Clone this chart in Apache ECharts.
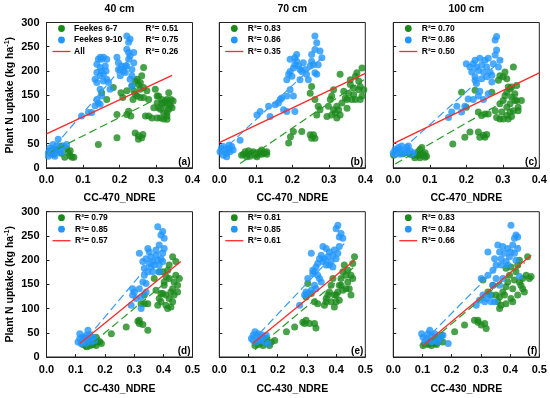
<!DOCTYPE html>
<html><head><meta charset="utf-8">
<script src="https://cdn.jsdelivr.net/npm/echarts@6/dist/echarts.min.js"></script>
<style>html,body{margin:0;padding:0;background:#fff}#c{width:550px;height:398px}</style>
</head><body><div id="c"></div>
<script>
// ---------------- DATA ----------------
const depthTitles = ['40 cm', '70 cm', '100 cm'];
const xNames = ['CC-470_NDRE', 'CC-430_NDRE'];
const panelLabels = ['(a)', '(b)', '(c)', '(d)', '(e)', '(f)'];
const groupNames = ['Feekes 6-7', 'Feekes 9-10', 'All'];
const xTicksTop = [0.0, 0.1, 0.2, 0.3, 0.4];
const xTicksBottom = [0.0, 0.1, 0.2, 0.3, 0.4, 0.5];
const yTicks = [0, 50, 100, 150, 200, 250, 300];

const r2A = ['0.51', '0.75', '0.26'];
const r2B = ['0.83', '0.86', '0.35'];
const r2C = ['0.70', '0.86', '0.50'];
const r2D = ['0.79', '0.85', '0.57'];
const r2E = ['0.81', '0.85', '0.61'];
const r2F = ['0.83', '0.84', '0.66'];

const greenA = [[0.01,35],[0.02,28],[0.03,38],[0.04,30],[0.05,22],[0.055,40],[0.06,32],[0.065,25],[0.07,22],[0.075,22],[0.04,45],[0.065,35],[0.02,40],[0.142,48],[0.193,62],
[0.151,155],[0.165,141],[0.183,166],[0.193,110],[0.204,155],[0.209,145],[0.22,110],[0.225,117],[0.231,107],[0.237,141],[0.239,159],[0.243,179],[0.248,183],[0.252,172],[0.257,176],[0.261,190],[0.266,207],[0.257,162],[0.248,148],[0.266,145],[0.275,159],[0.271,107],[0.243,72],[0.252,66],[0.261,62],[0.264,69],[0.252,59],[0.243,152],[0.234,169],[0.266,166],[0.257,145],[0.28,141],[0.22,159],
[0.298,162],[0.303,134],[0.307,148],[0.312,121],[0.316,134],[0.321,114],[0.326,128],[0.33,141],[0.335,155],[0.339,128],[0.344,124],[0.312,103],[0.321,101],[0.33,107],[0.303,148],[0.316,141],[0.326,138],[0.335,134],[0.341,141],[0.347,138],[0.294,124],[0.307,124],[0.321,134],[0.33,114],[0.335,121],[0.289,103],[0.28,107],[0.303,103],[0.33,100]];
const blueA = [[0.005,31],[0.009,41],[0.014,28],[0.018,34],[0.023,24],[0.028,45],[0.032,34],[0.037,38],[0.041,31],[0.046,45],[0.032,59],[0.005,24],[0.018,48],[0.055,48],[0.009,34],
[0.096,107],[0.115,114],[0.124,114],[0.133,128],[0.138,141],[0.142,134],[0.147,131],[0.133,183],[0.138,197],[0.138,214],[0.142,224],[0.147,228],[0.151,224],[0.156,228],[0.165,224],[0.147,207],[0.151,200],[0.156,193],[0.161,210],[0.163,200],[0.165,183],[0.17,176],[0.147,190],[0.138,176],[0.156,179],[0.174,162],[0.147,162],[0.151,148],
[0.193,228],[0.197,217],[0.202,203],[0.206,210],[0.211,200],[0.216,197],[0.22,210],[0.225,224],[0.225,259],[0.22,245],[0.225,238],[0.22,272],[0.229,266],[0.234,203],[0.234,190],[0.239,217],[0.229,183],[0.234,169],[0.229,231],[0.216,210],[0.202,190],[0.239,238],[0.197,203]];
const fitGreenA = [[0.0,28],[0.29,138]];
const fitBlueA = [[0.0,25],[0.235,232]];
const fitAllA = [[0.0,70],[0.344,191]];

const greenB = [[0.061,26],[0.071,33],[0.075,23],[0.08,28],[0.084,24],[0.089,30],[0.093,33],[0.098,26],[0.103,31],[0.107,28],[0.112,33],[0.116,37],[0.121,30],[0.125,31],[0.13,33],[0.066,28],[0.08,35],[0.103,23],[0.116,28],[0.13,28],
[0.19,51],[0.203,75],[0.226,75],[0.249,68],[0.258,68],[0.262,61],[0.253,61],[0.195,64],
[0.249,154],[0.253,168],[0.262,141],[0.267,109],[0.271,127],[0.276,120],
[0.295,106],[0.299,127],[0.304,141],[0.308,148],[0.313,161],[0.318,113],[0.322,127],[0.327,120],[0.331,193],[0.336,134],[0.341,158],[0.345,144],[0.35,141],[0.354,154],[0.359,172],[0.359,182],[0.363,141],[0.368,165],[0.373,189],[0.377,196],[0.382,179],[0.386,168],[0.391,206],[0.391,148],[0.396,161],[0.373,141],[0.313,120],[0.322,103],[0.331,109],[0.308,109],[0.35,123],[0.368,151],[0.386,141],[0.382,161]];
const blueB = [[0.002,33],[0.006,40],[0.011,44],[0.016,37],[0.02,30],[0.025,40],[0.029,33],[0.034,44],[0.02,23],[0.011,26],[0.027,47],[0.038,37],[0.057,57],
[0.103,109],[0.112,116],[0.135,127],[0.139,106],[0.153,130],[0.162,134],[0.167,141],[0.171,144],[0.185,148],[0.185,116],[0.203,148],[0.207,116],[0.194,161],[0.176,120],
[0.185,182],[0.19,193],[0.194,199],[0.199,189],[0.203,206],[0.207,213],[0.212,220],[0.217,210],[0.221,203],[0.226,199],[0.207,227],[0.212,234],[0.194,224],[0.23,217],[0.235,203],[0.239,193],[0.244,182],[0.249,210],[0.253,220],[0.258,213],[0.262,196],[0.262,244],[0.262,272],[0.267,258],[0.276,241],[0.281,227],[0.253,234],[0.267,193],[0.271,213],[0.221,182]];
const fitGreenB = [[0.057,9],[0.396,182]];
const fitBlueB = [[0.002,30],[0.281,227]];
const fitAllB = [[0.0,52],[0.4,195]];

const greenC = [[0.001,26],[0.018,31],[0.027,29],[0.037,31],[0.046,28],[0.055,26],[0.064,28],[0.068,33],[0.073,38],[0.078,26],[0.082,28],[0.087,22],[0.091,24],[0.073,21],[0.078,42],[0.059,21],[0.068,26],[0.087,31],
[0.163,49],[0.196,63],[0.21,74],[0.233,74],[0.247,67],[0.251,63],[0.256,69],[0.237,63],[0.187,156],[0.2,125],[0.224,160],[0.233,115],[0.242,108],[0.251,111],[0.26,111],[0.27,156],[0.279,118],[0.283,104],[0.292,101],[0.297,115],[0.288,181],[0.292,190],[0.301,188],[0.306,198],[0.311,184],
[0.292,132],[0.301,139],[0.306,149],[0.311,156],[0.315,167],[0.32,163],[0.324,167],[0.329,208],[0.333,153],[0.338,139],[0.342,125],[0.351,139],[0.311,125],[0.32,132],[0.324,146],[0.329,118],[0.315,101],[0.301,101],[0.333,139],[0.338,170],[0.342,118],[0.32,115],[0.311,108],[0.324,106]];
const blueC = [[0,31],[0.005,38],[0.009,35],[0.014,42],[0.018,38],[0.023,45],[0.027,31],[0.032,36],[0.037,42],[0.041,31],[0.046,35],[0.05,28],[0.055,31],[0.005,28],[0.018,28],[0.041,45],
[0.151,104],[0.16,115],[0.174,127],[0.187,115],[0.196,127],[0.205,142],[0.219,141],[0.233,148],[0.237,158],[0.247,141],[0.26,153],[0.2,215],[0.224,181],[0.228,174],
[0.21,208],[0.215,198],[0.219,215],[0.224,222],[0.228,208],[0.233,201],[0.237,226],[0.242,212],[0.247,198],[0.251,222],[0.256,208],[0.26,226],[0.265,198],[0.27,191],[0.274,215],[0.279,233],[0.279,264],[0.283,271],[0.283,243],[0.288,208],[0.292,222],[0.27,177],[0.224,188],[0.242,184],[0.256,188]];
const fitGreenC = [[0.005,8],[0.347,156]];
const fitBlueC = [[0.0,21],[0.301,226]];
const fitAllC = [[0.0,50],[0.4,196]];

const greenD = [[0.125,26],[0.134,23],[0.142,28],[0.15,24],[0.159,26],[0.165,31],[0.17,41],[0.176,31],[0.182,32],[0.188,28],[0.157,34],[0.139,21],[0.17,24],[0.148,34],
[0.222,48],[0.273,62],[0.313,74],[0.318,69],[0.33,67],[0.347,55],[0.318,76],[0.324,110],[0.335,128],[0.335,110],[0.347,110],
[0.369,162],[0.375,138],[0.381,107],[0.386,121],[0.392,114],[0.398,131],[0.403,148],[0.409,107],[0.415,100],[0.42,121],[0.426,134],[0.432,141],[0.437,155],[0.443,169],[0.449,148],[0.455,162],[0.415,179],[0.42,190],[0.432,207],[0.443,197],[0.403,155],[0.409,128],[0.386,176],[0.437,128],[0.449,134],[0.426,103],[0.398,176],[0.42,162],[0.432,114],[0.409,166],[0.392,131]];
const blueD = [[0.108,31],[0.114,38],[0.119,28],[0.125,41],[0.131,34],[0.136,45],[0.142,55],[0.148,38],[0.153,31],[0.159,41],[0.114,48],[0.125,31],[0.136,28],[0.148,46],[0.131,39],[0.165,34],
[0.29,107],[0.295,128],[0.301,134],[0.307,121],[0.318,141],[0.324,124],[0.33,155],[0.335,169],[0.341,134],[0.341,152],[0.324,100],[0.295,141],
[0.318,214],[0.33,197],[0.335,183],[0.341,203],[0.347,224],[0.352,193],[0.358,207],[0.364,197],[0.369,190],[0.375,210],[0.381,200],[0.386,190],[0.392,203],[0.398,214],[0.403,224],[0.352,217],[0.386,176],[0.392,252],[0.398,259],[0.403,245],[0.381,269],[0.386,231],[0.347,176],[0.364,176],[0.375,221],[0.358,186],[0.398,197]];
const fitGreenD = [[0.13,15],[0.44,170]];
const fitBlueD = [[0.114,21],[0.403,228]];
const fitAllD = [[0.114,28],[0.46,197]];

const greenE = [[0.122,24],[0.133,26],[0.139,28],[0.15,24],[0.156,31],[0.161,38],[0.167,28],[0.178,31],[0.19,34],[0.127,31],[0.148,34],[0.172,24],
[0.23,52],[0.258,62],[0.286,72],[0.292,69],[0.297,76],[0.309,69],[0.326,69],[0.331,60],[0.303,152],[0.297,124],[0.315,131],[0.326,114],[0.337,110],
[0.36,107],[0.366,114],[0.372,128],[0.377,134],[0.383,148],[0.389,162],[0.394,128],[0.4,114],[0.406,134],[0.411,148],[0.417,162],[0.423,176],[0.428,190],[0.434,169],[0.44,155],[0.445,141],[0.451,128],[0.457,162],[0.463,207],[0.457,193],[0.44,179],[0.423,138],[0.4,128],[0.383,114],[0.394,103],[0.411,117],[0.434,141],[0.451,169],[0.417,148],[0.366,121]];
const blueE = [[0.11,38],[0.116,45],[0.122,52],[0.127,41],[0.133,48],[0.139,38],[0.144,34],[0.15,41],[0.156,31],[0.161,45],[0.167,28],[0.127,31],[0.144,46],[0.116,34],
[0.275,107],[0.292,128],[0.297,134],[0.303,131],[0.315,138],[0.326,148],[0.331,141],[0.337,169],[0.343,162],[0.349,155],[0.303,162],[0.32,172],
[0.32,179],[0.326,176],[0.331,186],[0.337,193],[0.343,203],[0.349,210],[0.355,228],[0.355,197],[0.36,203],[0.366,190],[0.372,207],[0.377,217],[0.383,197],[0.389,210],[0.394,221],[0.4,203],[0.406,214],[0.411,228],[0.411,248],[0.417,255],[0.423,245],[0.406,272],[0.4,265],[0.315,214],[0.377,190],[0.366,224],[0.389,186]];
const fitGreenE = [[0.122,15],[0.46,185]];
const fitBlueE = [[0.11,31],[0.428,234]];
const fitAllE = [[0.114,28],[0.463,200]];

const greenF = [[0.102,24],[0.108,28],[0.114,31],[0.119,26],[0.125,28],[0.131,24],[0.136,31],[0.142,28],[0.148,26],[0.153,31],[0.159,38],[0.165,45],[0.17,31],[0.119,34],[0.142,34],
[0.21,52],[0.244,66],[0.278,76],[0.29,72],[0.301,66],[0.318,59],[0.313,69],[0.29,76],[0.307,159],[0.324,134],[0.335,128],[0.341,148],
[0.352,128],[0.358,114],[0.364,124],[0.369,107],[0.375,134],[0.381,128],[0.386,145],[0.392,155],[0.398,169],[0.403,121],[0.409,141],[0.415,159],[0.42,176],[0.426,190],[0.432,200],[0.437,148],[0.443,162],[0.449,134],[0.455,169],[0.46,207],[0.466,162],[0.472,166],[0.386,110],[0.409,114],[0.426,128],[0.443,141],[0.386,183],[0.403,186],[0.364,100],[0.432,155]];
const blueF = [[0.097,48],[0.102,41],[0.114,38],[0.119,48],[0.125,55],[0.131,45],[0.136,34],[0.142,48],[0.148,41],[0.153,31],[0.159,38],[0.188,28],[0.108,31],[0.17,45],[0.131,31],
[0.284,107],[0.295,117],[0.307,128],[0.313,114],[0.318,121],[0.33,128],[0.335,114],[0.347,114],[0.301,162],[0.341,148],[0.364,148],[0.352,162],[0.375,162],[0.324,169],
[0.324,217],[0.341,179],[0.352,190],[0.358,231],[0.364,217],[0.369,203],[0.375,228],[0.381,214],[0.386,197],[0.392,224],[0.398,207],[0.403,217],[0.409,231],[0.415,214],[0.42,200],[0.426,224],[0.415,245],[0.42,252],[0.426,248],[0.403,272],[0.432,166],[0.392,190],[0.369,190],[0.347,203]];
const fitGreenF = [[0.1,18],[0.45,195]];
const fitBlueF = [[0.102,31],[0.432,231]];
const fitAllF = [[0.102,24],[0.472,210]];

// ---------------- LAYOUT / STYLE ----------------
const GREEN = '#1b8a1b', BLUE = '#2196ff', RED = '#ff2a2a';
const GDASH = '#2a9a2a', BDASH = '#3a9cf5';
const FONT = '"Liberation Sans", Arial, sans-serif';
const colLeft = [46.5, 219.3, 393.3];
const rowTop = [22.5, 211.7];
const gw = 146, gh = 145.3;

const panels = [
  {g: greenA, b: blueA, fg: fitGreenA, fb: fitBlueA, fa: fitAllA, r2: r2A},
  {g: greenB, b: blueB, fg: fitGreenB, fb: fitBlueB, fa: fitAllB, r2: r2B},
  {g: greenC, b: blueC, fg: fitGreenC, fb: fitBlueC, fa: fitAllC, r2: r2C},
  {g: greenD, b: blueD, fg: fitGreenD, fb: fitBlueD, fa: fitAllD, r2: r2D},
  {g: greenE, b: blueE, fg: fitGreenE, fb: fitBlueE, fa: fitAllE, r2: r2E},
  {g: greenF, b: blueF, fg: fitGreenF, fb: fitBlueF, fa: fitAllF, r2: r2F}
];

const grid = [], xAxis = [], yAxis = [], series = [], graphic = [];
panels.forEach((p, i) => {
  const row = Math.floor(i / 3), col = i % 3;
  const L = colLeft[col], T = rowTop[row];
  grid.push({left: L, top: T, width: gw, height: gh, show: true, borderColor: '#222', borderWidth: 1,
             backgroundColor: 'transparent', outerBoundsMode: 'none', containLabel: false});
  const ticks = row === 0 ? xTicksTop : xTicksBottom;
  xAxis.push({
    type: 'value', gridIndex: i, min: ticks[0], max: ticks[ticks.length - 1], interval: 0.1,
    axisLine: {show: true, onZero: false, lineStyle: {color: '#222', width: 1}},
    axisTick: {show: true, inside: true, length: 3, lineStyle: {color: '#222'}},
    splitLine: {show: false},
    axisLabel: {show: true, margin: 7, color: '#000', fontFamily: FONT, fontWeight: 'bold', fontSize: 11,
                formatter: v => v.toFixed(1)},
    name: xNames[row], nameLocation: 'middle', nameGap: row === 0 ? 25 : 27,
    nameTextStyle: {color: '#000', fontFamily: FONT, fontWeight: 'bold', fontSize: 10.5}
  });
  yAxis.push({
    type: 'value', gridIndex: i, min: yTicks[0], max: yTicks[yTicks.length - 1], interval: 50,
    axisLine: {show: true, onZero: false, lineStyle: {color: '#222', width: 1}},
    axisTick: {show: true, inside: true, length: 3, lineStyle: {color: '#222'}},
    splitLine: {show: false},
    axisLabel: {show: col === 0, margin: 7, color: '#000', fontFamily: FONT, fontWeight: 'bold', fontSize: 11},
    name: col === 0 ? '{a|Plant N uptake (kg ha}{s|-1}{a|)}' : '',
    nameLocation: 'middle', nameGap: 29, nameRotate: 90,
    nameTextStyle: {color: '#000', fontFamily: FONT, fontWeight: 'bold', fontSize: 10.5,
      rich: {a: {fontFamily: FONT, fontWeight: 'bold', fontSize: 10.5, color: '#000'},
             s: {fontFamily: FONT, fontWeight: 'bold', fontSize: 7, color: '#000', padding: [0, 0, 7, 0]}}}
  });
  series.push({type: 'scatter', xAxisIndex: i, yAxisIndex: i, data: p.g, symbolSize: 7,
               itemStyle: {color: GREEN}, silent: true, z: 2});
  series.push({type: 'scatter', xAxisIndex: i, yAxisIndex: i, data: p.b, symbolSize: 7,
               itemStyle: {color: BLUE}, silent: true, z: 2});
  series.push({type: 'line', xAxisIndex: i, yAxisIndex: i, data: p.fg, showSymbol: false, symbol: 'none',
               lineStyle: {color: GDASH, width: 1.2, type: [8, 4]}, silent: true, z: 3});
  series.push({type: 'line', xAxisIndex: i, yAxisIndex: i, data: p.fb, showSymbol: false, symbol: 'none',
               lineStyle: {color: BDASH, width: 1.2, type: [8, 4]}, silent: true, z: 3});
  series.push({type: 'line', xAxisIndex: i, yAxisIndex: i, data: p.fa, showSymbol: false, symbol: 'none',
               lineStyle: {color: RED, width: 1.3}, silent: true, z: 4});

  // legend block inside the panel
  const rows = [6, 17.5, 29];
  const txtStyle = {fill: '#000', fontFamily: FONT, fontWeight: 'bold', fontSize: 8.5, verticalAlign: 'middle'};
  graphic.push({type: 'circle', shape: {cx: L + 15, cy: T + rows[0], r: 3.4}, style: {fill: GREEN}, z: 10});
  graphic.push({type: 'circle', shape: {cx: L + 15, cy: T + rows[1], r: 3.4}, style: {fill: BLUE}, z: 10});
  graphic.push({type: 'line', shape: {x1: L + 6, y1: T + rows[2], x2: L + 24, y2: T + rows[2]},
                style: {stroke: RED, lineWidth: 1.3}, z: 10});
  const rx = i === 0 ? L + 99 : L + 28.5;
  for (let k = 0; k < 3; k++) {
    if (i === 0) {
      graphic.push({type: 'text', x: L + 27.5, y: T + rows[k], style: Object.assign({text: groupNames[k]}, txtStyle), z: 10});
    }
    graphic.push({type: 'text', x: rx, y: T + rows[k], style: Object.assign({text: 'R\u00B2= ' + p.r2[k]}, txtStyle), z: 10});
  }
  // panel letter
  graphic.push({type: 'text', x: L + gw - 2, y: T + gh - 6,
    style: {text: panelLabels[i], fill: '#000', fontFamily: FONT, fontWeight: 'bold', fontSize: 10, align: 'right', verticalAlign: 'middle'}, z: 10});
});
depthTitles.forEach((t, c) => {
  graphic.push({type: 'text', x: colLeft[c] + gw / 2, y: 9,
    style: {text: t, fill: '#000', fontFamily: FONT, fontWeight: 'bold', fontSize: 10.5, align: 'center', verticalAlign: 'middle'}});
});

const chart = echarts.init(document.getElementById('c'), null, {renderer: 'canvas'});
chart.setOption({animation: false, backgroundColor: '#fff', grid, xAxis, yAxis, series, graphic});
</script></body></html>
